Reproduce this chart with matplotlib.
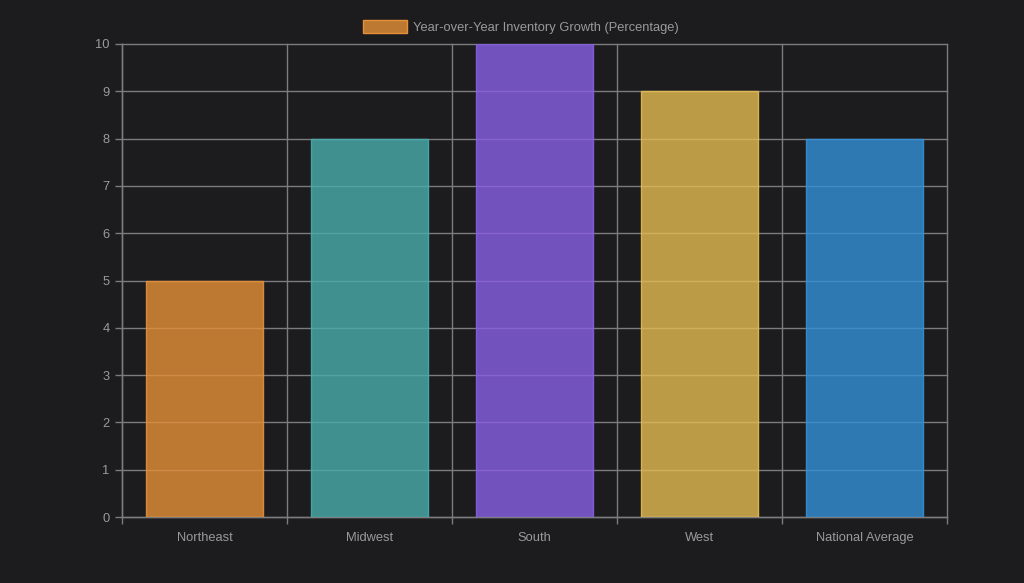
import matplotlib
matplotlib.use("Agg")
import matplotlib.pyplot as plt
from matplotlib.patches import Rectangle

categories = ["Northeast", "Midwest", "South", "West", "National Average"]
values = [5, 8, 10, 9, 8]
series_label = "Year-over-Year Inventory Growth (Percentage)"
edge_colors = [(230, 145, 56), (72, 174, 172), (137, 96, 229), (229, 188, 82), (52, 145, 216)]
y_ticks = list(range(0, 11))

bg = "#1c1c1f"
text_col = "#9a9a9a"
grid_col = "#7c7c7e"

plt.rcParams['font.family'] = ['Liberation Sans', 'DejaVu Sans']

fig = plt.figure(figsize=(10.24, 5.83), dpi=100, facecolor=bg)
ax = fig.add_axes([122/1024, 1 - 517/583, (947-122)/1024, (517-44)/583])
ax.set_facecolor(bg)

x = list(range(len(categories)))
cols = [tuple(c/255 for c in ec) for ec in edge_colors]
ax.bar(x, values, width=0.71, color=[(r, g, b, 0.8) for r, g, b in cols],
       edgecolor=[(r, g, b, 0.9) for r, g, b in cols], linewidth=1.0, zorder=3)

ax.set_xlim(-0.5, len(categories) - 0.5)
ax.set_ylim(0, 10)
ax.set_yticks(y_ticks)
ax.set_yticklabels([str(t) for t in y_ticks], color=text_col, fontsize=9.3)
ax.set_xticks(x)
ax.set_xticklabels(categories, color=text_col, fontsize=9.3)
ax.tick_params(axis='x', length=0, pad=11)
ax.tick_params(axis='y', length=5, color=grid_col, pad=4, width=1)

# category boundary ticks and grid
bounds = [i - 0.5 for i in range(len(categories) + 1)]
ax.set_xticks(bounds, minor=True)
ax.tick_params(axis='x', which='minor', length=5, color=grid_col, width=1)
ax.grid(axis='y', which='major', color=grid_col, linewidth=1, zorder=1)
ax.grid(axis='x', which='minor', color=grid_col, linewidth=1, zorder=1)
ax.grid(axis='x', which='major', visible=False)
ax.set_axisbelow(True)
for line in ax.xaxis.get_minorticklines() + ax.xaxis.get_gridlines() + ax.yaxis.get_gridlines():
    line.set_clip_on(False)
for tick in ax.xaxis.get_minor_ticks():
    tick.gridline.set_clip_on(False)

for s in ["left", "bottom"]:
    ax.spines[s].set_color(grid_col)
    ax.spines[s].set_linewidth(1)
for s in ["right", "top"]:
    ax.spines[s].set_visible(False)

# legend
fig.patches.append(Rectangle((363/1024, 1 - 33/583), 44/1024, 13/583,
                             transform=fig.transFigure,
                             facecolor=(*cols[0], 0.8), edgecolor=cols[0], linewidth=1.0))
fig.text(413/1024, 1 - 27.5/583, series_label, color=text_col, fontsize=9.3,
         va='center', ha='left')

fig.savefig("out.png", dpi=100, facecolor=bg)
